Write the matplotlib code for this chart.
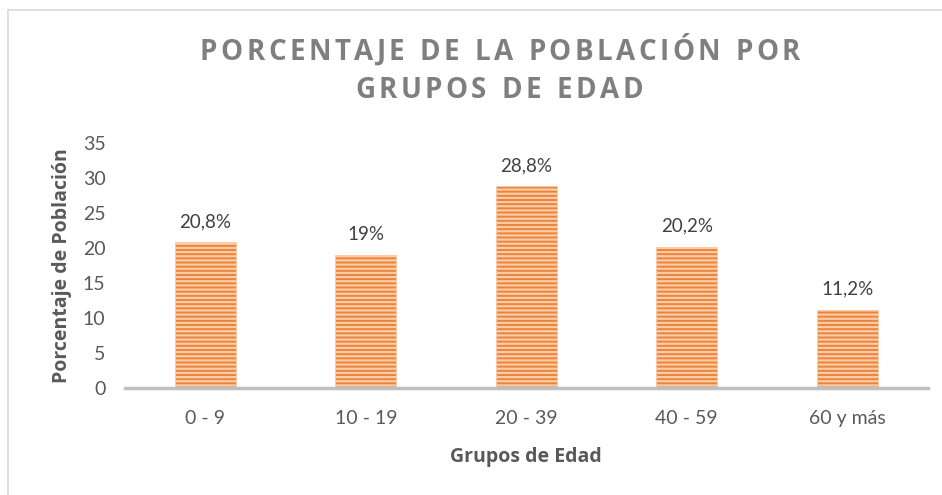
import matplotlib
matplotlib.use('Agg')
import matplotlib.pyplot as plt
from matplotlib.lines import Line2D

grupos = ['0 - 9', '10 - 19', '20 - 39', '40 - 59', '60 y más']
porcentajes = [20.8, 19.0, 28.8, 20.2, 11.2]
etiquetas = ['20,8%', '19%', '28,8%', '20,2%', '11,2%']
titulo = ['PORCENTAJE DE LA POBLACIÓN POR', 'GRUPOS DE EDAD']

plt.rcParams['font.family'] = ['Lato', 'DejaVu Sans']
plt.rcParams['hatch.linewidth'] = 1.6
BOLD = ['Open Sans', 'DejaVu Sans']

fig = plt.figure(figsize=(9.42, 4.95), dpi=100)
ax = fig.add_axes([0.1327, 0.216, 0.852, 0.495])

x = range(len(grupos))
bars = ax.bar(x, porcentajes, width=0.38, color='#EE8236',
              edgecolor='#F9CDAA', linewidth=0.6, hatch='----')

for b, lab in zip(bars, etiquetas):
    ax.annotate(lab, (b.get_x() + b.get_width() / 2, b.get_height()),
                xytext=(0, 9), textcoords='offset points',
                ha='center', va='bottom', fontsize=13.5, color='#404040')

ax.set_ylim(0, 35)
ax.set_xlim(-0.5, len(grupos) - 0.5)
ax.set_yticks(range(0, 36, 5))
ax.set_xticks(list(x))
ax.set_xticklabels(grupos)
ax.tick_params(axis='both', length=0, labelsize=14, labelcolor='#595959')
ax.tick_params(axis='x', pad=16)
ax.tick_params(axis='y', pad=14)
for s in ['top', 'right', 'left']:
    ax.spines[s].set_visible(False)
ax.spines['bottom'].set_color('#BFBFBF')
ax.spines['bottom'].set_linewidth(2.5)

ax.set_xlabel('Grupos de Edad', fontsize=14, fontweight='bold',
              color='#595959', labelpad=14, family=BOLD)
ax.set_ylabel('Porcentaje de Población', fontsize=14, fontweight='bold',
              color='#595959', labelpad=8, family=BOLD)


# title with letter spacing, drawn char by char to fill a target width (px)
def spaced_title(line, yc, x0, x1, size=20):
    r = fig.canvas.get_renderer()
    widths = []
    for ch in line:
        if ch == ' ':
            widths.append(size * 0.3 * fig.dpi / 72)
            continue
        t = fig.text(0, 0, ch, fontsize=size, fontweight='bold', family=BOLD)
        widths.append(t.get_window_extent(renderer=r).width)
        t.remove()
    track = (x1 - x0 - sum(widths)) / (len(line) - 1)
    xpos = x0
    for ch, w in zip(line, widths):
        if ch != ' ':
            fig.text(xpos / fig.bbox.width, yc, ch, fontsize=size, family=BOLD,
                     fontweight='bold', color='#7F7F7F', va='center', ha='left')
        xpos += w + track


spaced_title(titulo[0], 1 - 52 / 495, 200, 800)
spaced_title(titulo[1], 1 - 91 / 495, 355, 643)

# outer frame of the chart area
fig.add_artist(Line2D([8 / 942, 8 / 942], [0, 1 - 10 / 495],
                      transform=fig.transFigure, color='#D9D9D9', lw=1.2))
fig.add_artist(Line2D([8 / 942, 1], [1 - 10 / 495, 1 - 10 / 495],
                      transform=fig.transFigure, color='#D9D9D9', lw=1.2))

fig.savefig('out.png', dpi=100)
